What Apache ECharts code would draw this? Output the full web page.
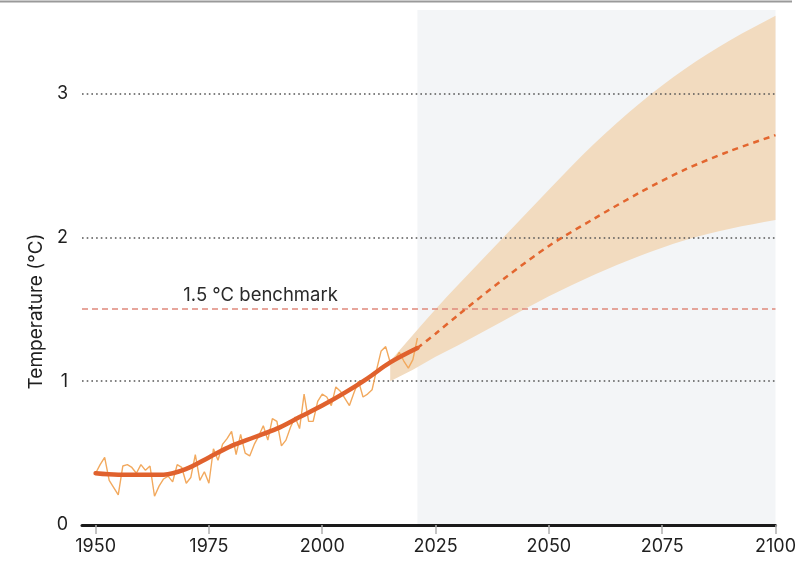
<!DOCTYPE html>
<html>
<head>
<meta charset="utf-8">
<script src="https://cdn.jsdelivr.net/npm/echarts@6/dist/echarts.min.js"></script>
<style>
  html, body { margin: 0; padding: 0; background: #ffffff; }
  #chart { width: 799px; height: 563px; }
</style>
</head>
<body>
<div id="chart"></div>
<script>
// Observed annual global temperature anomaly (°C), one value per year from 1950
const firstYear = 1950;
const annualAnomaly = [
  0.36, 0.42, 0.47, 0.31, 0.26, 0.21, 0.41, 0.42, 0.40, 0.36,
  0.42, 0.38, 0.41, 0.20, 0.27, 0.32, 0.34, 0.30, 0.42, 0.40,
  0.29, 0.33, 0.49, 0.31, 0.37, 0.29, 0.53, 0.45, 0.56, 0.60,
  0.65, 0.49, 0.63, 0.50, 0.48, 0.56, 0.62, 0.69, 0.59, 0.74,
  0.72, 0.55, 0.59, 0.68, 0.75, 0.67, 0.91, 0.72, 0.72, 0.86,
  0.91, 0.89, 0.83, 0.96, 0.93, 0.88, 0.83, 0.92, 1.00, 0.89,
  0.91, 0.94, 1.08, 1.21, 1.24, 1.13, 1.15, 1.20, 1.14, 1.09,
  1.15, 1.30
];

// Long-term trend of the observations
const trendYears  = [1950, 1955, 1960, 1965, 1970, 1975, 1980, 1985, 1990, 1995, 2000, 2005, 2010, 2015, 2021];
const trendValues = [0.36, 0.35, 0.35, 0.35, 0.39, 0.47, 0.55, 0.61, 0.67, 0.75, 0.83, 0.92, 1.02, 1.13, 1.23];

// Projected warming: likely range and central estimate
const rangeYears  = [2015, 2020, 2025, 2030, 2040, 2050, 2060, 2070, 2080, 2090, 2100];
const rangeLower  = [1.00, 1.08, 1.17, 1.25, 1.42, 1.59, 1.74, 1.87, 1.98, 2.06, 2.12];
const rangeUpper  = [1.14, 1.32, 1.50, 1.67, 2.00, 2.33, 2.65, 2.93, 3.17, 3.37, 3.54];
const medianYears  = [2021, 2025, 2030, 2040, 2050, 2060, 2070, 2080, 2090, 2100];
const medianValues = [1.23, 1.33, 1.46, 1.71, 1.94, 2.13, 2.31, 2.47, 2.60, 2.71];

const benchmark = 1.5;
const benchmarkLabel = '1.5 °C benchmark';
const benchmarkLabelYear = 1986.4;
const projectionStart = 2021;
const projectionEnd = 2100;

const xTicks = [1950, 1975, 2000, 2025, 2050, 2075, 2100];
const yTicks = [0, 1, 2, 3];

const FONT = 'Inter, "Noto Sans", sans-serif';

const annualData = annualAnomaly.map((v, i) => [firstYear + i, v]);
const trendData = trendYears.map((y, i) => [y, trendValues[i]]);
const medianData = medianYears.map((y, i) => [y, medianValues[i]]);

// Smooth cubic Hermite segments through pixel points ordered along x
function curveThrough(pts) {
  const n = pts.length;
  const slope = (a, b) => (b[1] - a[1]) / (b[0] - a[0]);
  const m = pts.map((p, i) => {
    if (i === 0) return slope(pts[0], pts[1]);
    if (i === n - 1) return slope(pts[n - 2], pts[n - 1]);
    return (slope(pts[i - 1], p) + slope(p, pts[i + 1])) / 2;
  });
  let d = '';
  for (let i = 0; i < n - 1; i++) {
    const p1 = pts[i], p2 = pts[i + 1];
    const h = (p2[0] - p1[0]) / 3;
    d += ' C' + (p1[0] + h) + ' ' + (p1[1] + m[i] * h) + ' ' +
         (p2[0] - h) + ' ' + (p2[1] - m[i + 1] * h) + ' ' + p2[0] + ' ' + p2[1];
  }
  return d;
}

function renderRange(params, api) {
  const upper = rangeYears.map((y, i) => api.coord([y, rangeUpper[i]]));
  const lower = rangeYears.map((y, i) => api.coord([y, rangeLower[i]])).reverse();
  const d = 'M' + upper[0][0] + ' ' + upper[0][1] + curveThrough(upper) +
            ' L' + lower[0][0] + ' ' + lower[0][1] + curveThrough(lower) + ' Z';
  return {
    type: 'path',
    shape: { pathData: d },
    style: { fill: '#f2dbbf', stroke: null }
  };
}

const chart = echarts.init(document.getElementById('chart'), null, { renderer: 'canvas' });

chart.setOption({
  animation: false,
  backgroundColor: '#ffffff',
  grid: { left: 82, right: 20, top: 10, bottom: 38, containLabel: false },
  xAxis: {
    type: 'value',
    min: 1947,
    max: 2100,
    z: 10,
    axisLine: { show: true, lineStyle: { color: '#1a1a1a', width: 3 } },
    axisTick: {
      show: true, length: 9, inside: false,
      customValues: xTicks,
      lineStyle: { color: '#b0b0b0', width: 1.5 }
    },
    axisLabel: {
      customValues: xTicks,
      formatter: v => String(v),
      margin: 13,
      color: '#1f1f1f',
      fontFamily: FONT,
      fontSize: 18
    },
    splitLine: { show: false }
  },
  yAxis: {
    type: 'value',
    min: 0,
    max: 3.58,
    name: 'Temperature (°C)',
    nameLocation: 'middle',
    nameGap: 31,
    nameRotate: 90,
    nameTextStyle: {
      color: '#1f1f1f', fontFamily: FONT, fontSize: 19,
      padding: [0, 88, 0, 0]
    },
    axisLine: { show: false },
    axisTick: { show: false },
    axisLabel: {
      customValues: yTicks,
      margin: 14,
      color: '#1f1f1f',
      fontFamily: FONT,
      fontSize: 18
    },
    splitLine: { show: false }
  },
  graphic: [
    {
      type: 'line',
      shape: { x1: 0, y1: 1.5, x2: 792, y2: 1.5 },
      style: { stroke: '#9a9a9a', lineWidth: 2 },
      silent: true
    }
  ],
  series: [
    {
      // shaded projection period
      name: 'Projection period',
      type: 'line',
      data: [],
      z: 1,
      silent: true,
      markArea: {
        silent: true,
        itemStyle: { color: '#f3f5f7' },
        data: [[{ xAxis: projectionStart }, { xAxis: projectionEnd }]]
      }
    },
    {
      name: 'Likely range',
      type: 'custom',
      data: [[rangeYears[0], rangeLower[0]]],
      renderItem: renderRange,
      clip: true,
      z: 2,
      silent: true
    },
    {
      // grid lines drawn above the shaded range
      name: 'Grid',
      type: 'line',
      data: [],
      z: 3,
      silent: true,
      markLine: {
        silent: true,
        symbol: 'none',
        label: { show: false },
        lineStyle: { type: [1.6, 3.1], color: '#555555', width: 1.6 },
        data: yTicks.filter(v => v > 0).map(v => ({ yAxis: v }))
      }
    },
    {
      name: 'Benchmark',
      type: 'line',
      data: [],
      z: 4,
      silent: true,
      markLine: {
        silent: true,
        symbol: 'none',
        label: { show: false },
        lineStyle: { type: [6, 4], color: '#e0897c', width: 1.5 },
        data: [{ yAxis: benchmark }]
      },
      markPoint: {
        silent: true,
        symbol: 'circle',
        symbolSize: 0,
        label: {
          show: true,
          position: 'top',
          distance: 4,
          formatter: benchmarkLabel,
          color: '#2a2a2a',
          fontFamily: FONT,
          fontSize: 18.5
        },
        data: [{ coord: [benchmarkLabelYear, benchmark] }]
      }
    },
    {
      name: 'Annual',
      type: 'line',
      data: annualData,
      symbol: 'none',
      lineStyle: { color: '#f2a95e', width: 1.4 },
      z: 5,
      silent: true
    },
    {
      name: 'Trend',
      type: 'line',
      data: trendData,
      smooth: 0.35,
      symbol: 'none',
      lineStyle: { color: '#e0612d', width: 4.5, cap: 'round' },
      z: 6,
      silent: true
    },
    {
      name: 'Projection',
      type: 'line',
      data: medianData,
      smooth: 0.3,
      symbol: 'none',
      lineStyle: { color: '#e3662f', width: 2.5, type: [6, 5] },
      z: 6,
      silent: true
    }
  ]
});
</script>
</body>
</html>
